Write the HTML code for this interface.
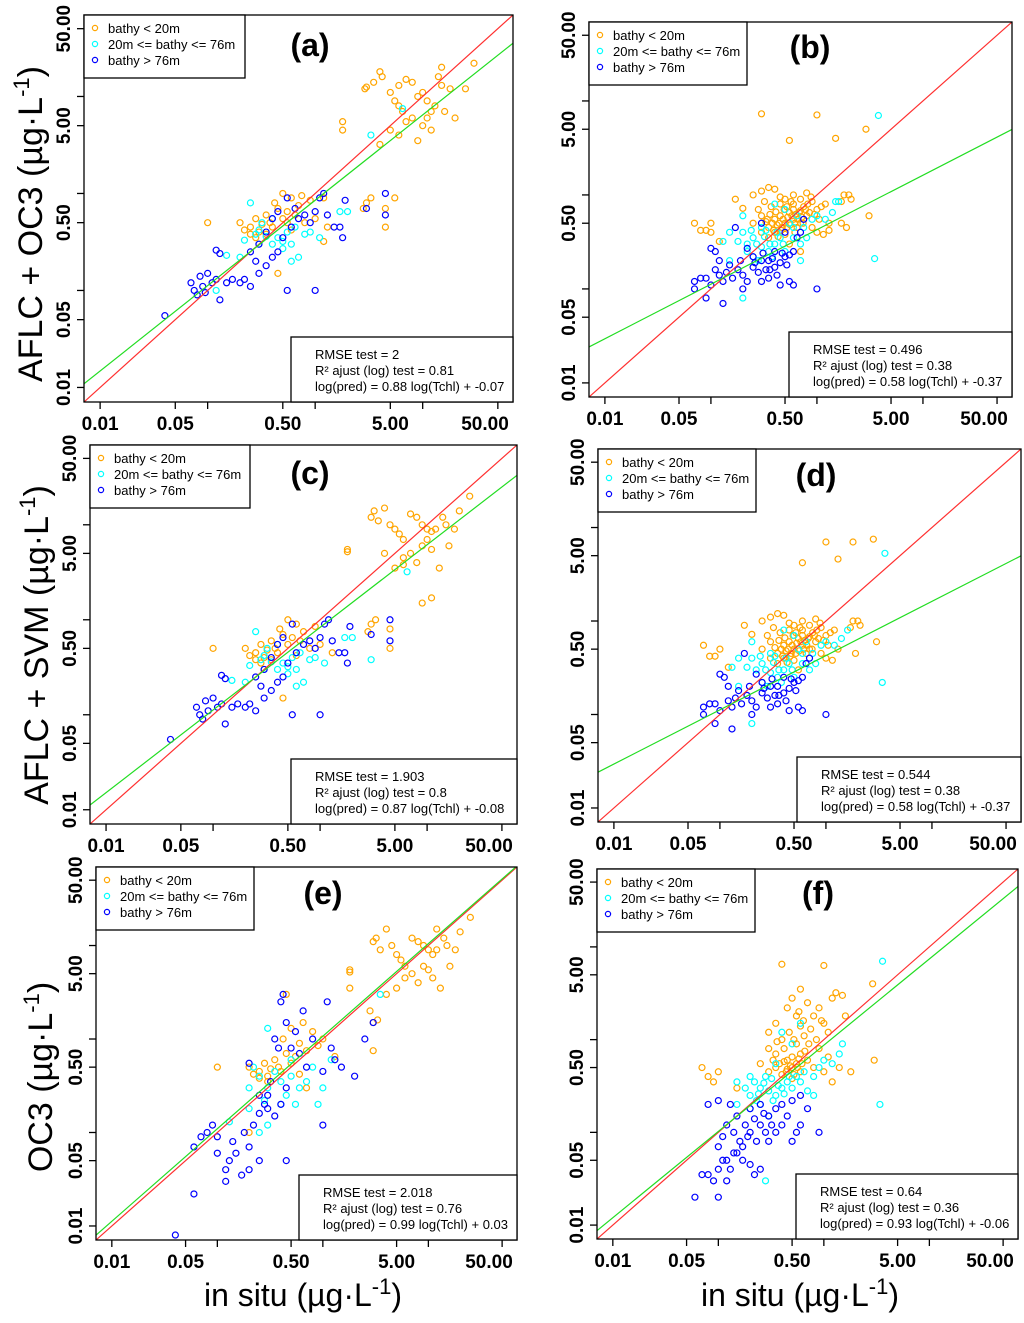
<!DOCTYPE html>
<html><head><meta charset="utf-8"><style>
html,body{margin:0;padding:0;background:#fff;}
svg{display:block;font-family:"Liberation Sans",sans-serif;}
</style></head><body>
<svg id="fig" width="1024" height="1323" viewBox="0 0 1024 1323" xmlns="http://www.w3.org/2000/svg">
<text x="42" y="224" transform="rotate(-90 42 224)" font-size="34" text-anchor="middle">AFLC + OC3 (µg·L<tspan dy="-13" font-size="22">-1</tspan><tspan dy="13">)</tspan></text>
<text x="48" y="645" transform="rotate(-90 48 645)" font-size="34" text-anchor="middle">AFLC + SVM (µg·L<tspan dy="-13" font-size="22">-1</tspan><tspan dy="13">)</tspan></text>
<text x="52" y="1077" transform="rotate(-90 52 1077)" font-size="34" text-anchor="middle">OC3 (µg·L<tspan dy="-13" font-size="22">-1</tspan><tspan dy="13">)</tspan></text>
<text x="303" y="1306" font-size="32" text-anchor="middle">in situ (µg·L<tspan dy="-12" font-size="22">-1</tspan><tspan dy="12">)</tspan></text>
<text x="800" y="1306" font-size="32" text-anchor="middle">in situ (µg·L<tspan dy="-12" font-size="22">-1</tspan><tspan dy="12">)</tspan></text>
</svg>
<script>
// ---- data (µg/L), [in situ, predicted] ----
const aOrange=[[2.9,12],[3,12.5],[3.5,14],[4,18],[4.2,16],[5,11],[5.5,9],[6,8],[6.5,7],[7,15],[8,14],[9,10],[10,11],[11,9],[12,7],[13,8],[14,16],[15,13],[18,12],[8,6],[7,5.5],[6,4],[5,4.5],[9,3.5],[4,3.2],[10,5],[11,6],[12,4.5],[16,7],[20,6],[25,12],[30,22],[15,20],[6,13],[1.8,5.5],[1.8,4.5],[3,0.8],[3.3,0.9],[2.8,0.7],[4.5,0.7],[5.5,0.9],[4.5,0.45],[0.1,0.5],[0.2,0.5],[0.22,0.42],[0.25,0.45],[0.28,0.55],[0.3,0.4],[0.32,0.48],[0.35,0.6],[0.38,0.5],[0.4,0.45],[0.42,0.8],[0.45,0.7],[0.5,0.55],[0.5,1.0],[0.55,0.65],[0.6,0.9],[0.65,0.6],[0.7,0.75],[0.8,0.5],[0.9,0.85],[1.0,0.55],[1.2,0.9],[1.3,0.45],[0.45,0.15],[1.2,0.32],[0.28,0.35],[0.35,0.38],[0.6,0.42],[0.75,0.95],[0.25,0.38],[0.55,0.5]];
const aCyan=[[0.22,0.33],[0.25,0.8],[0.28,0.38],[0.3,0.3],[0.32,0.5],[0.35,0.36],[0.4,0.3],[0.45,0.35],[0.5,0.32],[0.55,0.4],[0.6,0.3],[0.7,0.22],[0.8,0.38],[0.5,0.27],[0.15,0.23],[0.2,0.22],[0.12,0.1],[0.6,0.2],[1.1,0.35],[1.7,0.65],[2.0,0.65],[3.3,4],[6.5,7.5],[0.4,0.55],[0.3,0.42],[0.65,0.45],[0.9,0.4]];
const aBlue=[[0.04,0.055],[0.07,0.12],[0.075,0.1],[0.08,0.09],[0.085,0.14],[0.09,0.11],[0.095,0.095],[0.1,0.15],[0.11,0.12],[0.12,0.13],[0.13,0.08],[0.12,0.26],[0.13,0.24],[0.15,0.12],[0.17,0.13],[0.2,0.12],[0.22,0.13],[0.25,0.11],[0.25,0.25],[0.28,0.2],[0.3,0.15],[0.3,0.3],[0.35,0.18],[0.35,0.4],[0.4,0.22],[0.4,0.55],[0.45,0.65],[0.5,0.35],[0.55,0.9],[0.6,0.45],[0.7,0.55],[0.8,0.6],[0.9,0.5],[1.0,0.65],[1.1,0.9],[1.2,1.0],[1.3,0.6],[1.5,0.45],[1.7,0.45],[1.8,0.35],[1.9,0.85],[3,0.7],[4.5,0.6],[4.5,1.0],[1.0,0.1],[0.55,0.1],[0.45,0.25],[0.65,0.7]];

const bOrange=[[0.3,7.3],[1.0,7.1],[0.55,3.8],[1.5,4.0],[2.9,5.0],[3.1,0.6],[2.0,1.0],[2.1,0.9],[1.8,1.0],[1.7,0.85],[1.9,0.45],[1.7,0.5],[0.07,0.5],[0.08,0.42],[0.09,0.42],[0.1,0.5],[0.1,0.4],[0.12,0.32],[0.17,0.9],[0.2,0.72],[0.25,1.0],[0.3,1.1],[0.35,1.2],[0.4,1.15],[0.45,0.95],[0.5,0.9],[0.6,1.0],[0.7,0.9],[0.8,1.05],[0.9,0.85],[1.0,0.7],[1.1,0.75],[1.2,0.8],[1.3,0.5],[0.25,0.5],[0.3,0.6],[0.35,0.45],[0.4,0.55],[0.45,0.6],[0.5,0.5],[0.55,0.65],[0.6,0.55],[0.7,0.5],[0.8,0.6],[0.9,0.45],[1.0,0.4],[0.35,0.35],[0.4,0.4],[0.5,0.38],[0.6,0.7],[0.65,0.45],[0.3,0.4],[0.28,0.7],[0.75,0.75],[0.45,0.8],[0.55,0.3],[0.7,0.25],[1.15,0.38],[1.3,0.42],[0.38,0.5],[0.42,0.48],[0.48,0.55],[0.52,0.45],[0.58,0.6],[0.62,0.5],[0.68,0.65],[0.72,0.58],[0.33,0.52],[0.36,0.62],[0.39,0.42],[0.41,0.66],[0.44,0.5],[0.46,0.42],[0.49,0.7],[0.53,0.58],[0.56,0.48],[0.6,0.8],[0.63,0.62],[0.66,0.55],[0.7,0.68],[0.74,0.5],[0.78,0.7],[0.82,0.8],[0.85,0.65],[0.95,0.62],[0.32,0.85],[0.37,0.75],[0.43,0.36],[0.47,0.45],[0.52,0.75],[0.57,0.85],[0.62,0.4],[0.88,0.95],[1.05,0.55],[0.34,0.55]];
const bCyan=[[3.8,7.0],[3.5,0.21],[0.2,0.6],[0.15,0.4],[0.13,0.32],[0.18,0.32],[0.2,0.4],[0.22,0.3],[0.25,0.35],[0.3,0.28],[0.35,0.25],[0.4,0.3],[0.45,0.35],[0.5,0.25],[0.6,0.35],[0.7,0.3],[0.8,0.35],[0.9,0.55],[1.0,0.6],[1.2,0.55],[1.4,0.65],[1.6,0.85],[1.5,0.85],[0.5,0.7],[0.4,0.8],[0.25,0.22],[0.2,0.08],[0.28,0.2],[0.15,0.2],[0.7,0.2],[0.3,0.45],[0.6,0.45],[0.24,0.42],[0.27,0.3],[0.32,0.36],[0.36,0.3],[0.42,0.4],[0.38,0.22],[0.55,0.5],[0.65,0.6],[0.75,0.45],[0.22,0.25],[0.33,0.42],[0.48,0.3]];
const bBlue=[[0.07,0.12],[0.07,0.1],[0.08,0.13],[0.09,0.13],[0.1,0.11],[0.09,0.08],[0.1,0.27],[0.11,0.25],[0.12,0.2],[0.12,0.14],[0.13,0.12],[0.13,0.07],[0.14,0.15],[0.15,0.18],[0.16,0.13],[0.18,0.16],[0.2,0.1],[0.2,0.14],[0.22,0.12],[0.25,0.17],[0.25,0.22],[0.28,0.15],[0.3,0.2],[0.3,0.12],[0.33,0.16],[0.35,0.2],[0.35,0.13],[0.4,0.25],[0.4,0.17],[0.45,0.19],[0.5,0.22],[0.55,0.23],[0.6,0.25],[0.45,0.11],[0.55,0.12],[0.6,0.11],[0.65,0.35],[0.7,0.4],[0.75,0.55],[1.0,0.1],[0.17,0.45],[0.22,0.27],[0.3,0.5],[0.5,0.4],[0.26,0.19],[0.31,0.24],[0.36,0.16],[0.38,0.21],[0.42,0.14],[0.47,0.24],[0.52,0.18],[0.19,0.2],[0.11,0.16]];

const cOrange=[[3,12],[3.2,14],[3.5,11],[4,15],[4.5,10],[5,9],[5.5,8],[6,7],[7,13],[8,12],[9,10],[10,9],[11,8.5],[12,9],[14,12],[15,10],[18,9],[20,14],[7,5],[6,4.5],[5,3.5],[8,4],[9,6],[10,7],[11,5.5],[13,3.5],[16,6],[25,20],[6,3.8],[4,5],[1.8,5.5],[1.8,5.2],[3,0.9],[3.3,1.0],[2.8,0.75],[4.5,0.8],[9,1.5],[11,1.7],[4.5,0.5],[0.1,0.5],[0.2,0.5],[0.22,0.42],[0.25,0.45],[0.28,0.55],[0.3,0.4],[0.32,0.48],[0.35,0.6],[0.38,0.5],[0.4,0.45],[0.42,0.8],[0.45,0.7],[0.5,0.55],[0.5,1.0],[0.55,0.65],[0.6,0.9],[0.65,0.6],[0.7,0.75],[0.8,0.5],[0.9,0.85],[1.0,0.55],[1.3,0.45],[0.45,0.15],[0.28,0.35],[0.35,0.38],[0.6,0.42],[0.25,0.38]];
const cCyan=[[0.22,0.33],[0.25,0.75],[0.28,0.38],[0.3,0.3],[0.32,0.5],[0.35,0.36],[0.4,0.3],[0.45,0.35],[0.5,0.32],[0.55,0.4],[0.6,0.3],[0.7,0.22],[0.8,0.38],[0.5,0.27],[0.15,0.23],[0.2,0.22],[0.6,0.2],[1.1,0.35],[1.7,0.65],[2.0,0.65],[3.0,0.38],[6.5,3.2],[0.4,0.55],[0.3,0.42],[0.65,0.45],[0.9,0.4]];
const cBlue=[[0.04,0.055],[0.07,0.12],[0.075,0.1],[0.08,0.09],[0.085,0.14],[0.09,0.11],[0.1,0.15],[0.11,0.12],[0.12,0.13],[0.13,0.08],[0.12,0.26],[0.13,0.24],[0.15,0.12],[0.17,0.13],[0.2,0.12],[0.22,0.13],[0.25,0.11],[0.25,0.25],[0.28,0.2],[0.3,0.15],[0.3,0.3],[0.35,0.18],[0.35,0.4],[0.4,0.22],[0.4,0.55],[0.45,0.65],[0.5,0.35],[0.55,0.9],[0.6,0.45],[0.7,0.55],[0.8,0.6],[0.9,0.5],[1.0,0.65],[1.1,0.9],[1.2,1.0],[1.3,0.6],[1.5,0.45],[1.7,0.45],[1.8,0.35],[1.9,0.85],[3,0.7],[4.5,0.6],[4.5,1.0],[1.0,0.1],[0.55,0.1],[0.45,0.25]];

const dOrange=[[0.6,4.2],[1.0,7.0],[1.3,4.6],[1.8,7.0],[2.8,7.5],[3.0,0.6],[2.0,1.0],[2.1,0.9],[1.8,1.0],[1.7,0.85],[1.9,0.45],[0.07,0.55],[0.08,0.42],[0.09,0.42],[0.1,0.5],[0.12,0.32],[0.17,0.9],[0.2,0.72],[0.25,1.0],[0.3,1.1],[0.35,1.2],[0.4,1.15],[0.45,0.95],[0.5,0.9],[0.6,1.0],[0.7,0.9],[0.8,1.05],[0.9,0.85],[1.0,0.7],[1.1,0.75],[1.2,0.8],[1.3,0.5],[0.25,0.5],[0.3,0.6],[0.35,0.45],[0.4,0.55],[0.45,0.6],[0.5,0.5],[0.55,0.65],[0.6,0.55],[0.7,0.5],[0.8,0.6],[0.9,0.45],[1.0,0.4],[0.35,0.35],[0.4,0.4],[0.5,0.38],[0.6,0.7],[0.65,0.45],[0.3,0.4],[0.28,0.7],[0.75,0.75],[0.45,0.8],[0.55,0.3],[1.15,0.38],[0.38,0.5],[0.42,0.48],[0.48,0.55],[0.52,0.45],[0.58,0.6],[0.62,0.5],[0.68,0.65],[0.33,0.52],[0.36,0.62],[0.39,0.42],[0.41,0.66],[0.44,0.5],[0.46,0.42],[0.49,0.7],[0.53,0.58],[0.56,0.48],[0.6,0.8],[0.63,0.62],[0.66,0.55],[0.7,0.68],[0.74,0.5],[0.78,0.7],[0.82,0.8],[0.85,0.65],[0.95,0.62],[0.32,0.85],[0.37,0.75],[0.43,0.36],[0.47,0.45],[0.52,0.75],[0.57,0.85],[0.88,0.95],[1.05,0.55]];
const dCyan=[[3.6,5.3],[3.4,0.22],[0.2,0.6],[0.15,0.4],[0.13,0.32],[0.18,0.32],[0.2,0.4],[0.22,0.3],[0.25,0.35],[0.3,0.28],[0.35,0.25],[0.4,0.3],[0.45,0.35],[0.5,0.25],[0.6,0.35],[0.7,0.3],[0.8,0.35],[0.9,0.55],[1.0,0.6],[1.2,0.55],[1.4,0.65],[1.6,0.8],[0.5,0.7],[0.4,0.8],[0.25,0.22],[0.2,0.08],[0.28,0.2],[0.15,0.2],[0.3,0.45],[0.6,0.45],[0.24,0.42],[0.27,0.3],[0.32,0.36],[0.36,0.3],[0.42,0.4],[0.38,0.22],[0.55,0.5],[0.65,0.6],[0.75,0.45],[0.33,0.42],[0.48,0.3]];
const dBlue=[[0.07,0.12],[0.07,0.1],[0.08,0.13],[0.09,0.13],[0.1,0.11],[0.09,0.08],[0.1,0.27],[0.11,0.25],[0.12,0.2],[0.12,0.14],[0.13,0.12],[0.13,0.07],[0.14,0.15],[0.15,0.18],[0.16,0.13],[0.18,0.16],[0.2,0.1],[0.2,0.14],[0.22,0.12],[0.25,0.17],[0.25,0.22],[0.28,0.15],[0.3,0.2],[0.3,0.12],[0.33,0.16],[0.35,0.2],[0.35,0.13],[0.4,0.25],[0.4,0.17],[0.45,0.19],[0.5,0.22],[0.55,0.23],[0.6,0.25],[0.45,0.11],[0.55,0.12],[0.6,0.11],[0.65,0.35],[0.7,0.4],[1.0,0.1],[0.17,0.45],[0.22,0.27],[0.26,0.19],[0.31,0.24],[0.36,0.16],[0.42,0.14],[0.47,0.24],[0.52,0.18],[0.19,0.2]];

const eOrange=[[3,11],[3.2,12],[3.5,9],[4,15],[4.5,10],[5,8],[5.5,7],[6,6],[7,12],[8,11],[9,10],[10,9],[11,8],[12,9],[14,12],[15,10],[18,9],[20,14],[7,5],[6,4.5],[5,3.5],[8,4],[9,6],[10,5.5],[11,4.5],[13,3.5],[16,6],[25,20],[12,15],[4,3],[1.8,5.5],[1.8,5.2],[1.8,3.5],[3,1.5],[3.3,1.6],[2.8,2.0],[3.0,0.75],[0.1,0.5],[0.2,0.5],[0.22,0.42],[0.25,0.45],[0.28,0.55],[0.3,0.4],[0.32,0.48],[0.35,0.6],[0.38,0.5],[0.4,0.45],[0.42,1.0],[0.45,0.7],[0.5,0.55],[0.5,1.3],[0.55,0.65],[0.6,0.9],[0.65,1.5],[0.7,0.75],[0.8,1.2],[0.9,0.85],[1.0,1.0],[1.3,0.65],[0.45,3.0],[0.3,0.35],[0.6,0.42],[0.25,0.38],[0.7,0.3],[0.2,0.1]];
const eCyan=[[0.13,0.13],[0.2,0.3],[0.22,0.5],[0.25,0.4],[0.3,0.3],[0.35,0.45],[0.4,0.35],[0.45,0.25],[0.5,0.4],[0.55,0.2],[0.6,0.3],[0.7,0.35],[0.8,0.5],[1.0,0.3],[1.2,0.6],[0.3,0.12],[0.25,0.1],[0.3,1.3],[0.5,0.6],[3.5,3.0],[0.4,0.2],[0.28,0.22],[0.9,0.2],[0.2,0.18]];
const eBlue=[[0.04,0.008],[0.06,0.022],[0.06,0.07],[0.07,0.09],[0.08,0.1],[0.09,0.12],[0.1,0.09],[0.1,0.06],[0.12,0.04],[0.12,0.03],[0.13,0.05],[0.14,0.08],[0.15,0.06],[0.17,0.035],[0.18,0.1],[0.2,0.07],[0.2,0.04],[0.22,0.12],[0.25,0.16],[0.25,0.05],[0.28,0.2],[0.3,0.25],[0.32,0.35],[0.35,1.0],[0.38,0.8],[0.4,2.5],[0.42,3.0],[0.45,0.3],[0.45,1.5],[0.5,0.8],[0.55,1.2],[0.6,0.7],[0.65,2.0],[0.7,0.5],[0.8,1.0],[1.0,0.45],[1.1,2.5],[1.2,0.8],[1.3,0.6],[1.5,0.5],[2.0,0.4],[2.5,1.0],[3.0,1.5],[1.0,0.12],[0.45,0.05],[0.2,0.55],[0.35,0.15],[0.25,0.25],[0.3,0.18],[0.4,0.2]];

const fOrange=[[0.4,6.5],[1.0,6.3],[0.6,3.5],[0.35,1.5],[0.45,2.2],[0.5,2.8],[0.55,1.8],[0.7,2.5],[0.8,1.8],[0.9,2.2],[1.0,1.5],[1.2,2.8],[1.3,3.2],[1.5,3.0],[1.6,1.8],[2.9,4.0],[3.0,0.6],[1.8,0.45],[0.07,0.5],[0.08,0.4],[0.09,0.35],[0.1,0.45],[0.15,0.3],[0.25,0.55],[0.3,0.8],[0.35,0.7],[0.4,1.0],[0.45,0.6],[0.5,0.5],[0.55,0.9],[0.6,0.7],[0.65,1.1],[0.7,0.6],[0.8,0.5],[0.9,0.8],[1.0,0.45],[1.1,0.65],[1.2,0.35],[1.4,0.5],[0.3,0.45],[0.35,0.5],[0.4,0.42],[0.45,0.48],[0.5,0.38],[0.55,0.55],[0.6,0.45],[0.42,0.58],[0.48,0.52],[0.58,0.62],[0.3,1.2],[0.6,1.4],[1.1,1.2],[0.38,0.55],[0.44,0.45],[0.5,0.65],[0.52,0.42],[0.56,0.5],[0.62,0.55],[0.66,0.75],[0.72,0.9],[0.75,1.3],[0.85,1.0],[0.95,1.6],[0.42,0.8],[0.47,1.2],[0.52,1.0],[0.58,2.0],[0.64,1.6],[0.36,0.95],[0.33,0.6]];
const fCyan=[[3.6,7.0],[3.4,0.2],[0.2,0.4],[0.15,0.35],[0.18,0.3],[0.2,0.25],[0.22,0.35],[0.25,0.3],[0.28,0.4],[0.3,0.28],[0.35,0.25],[0.4,0.3],[0.45,0.35],[0.5,0.3],[0.6,0.35],[0.7,0.28],[0.8,0.4],[0.9,0.5],[1.0,0.6],[1.2,0.55],[1.4,0.7],[0.5,0.9],[0.6,1.5],[0.4,1.2],[0.25,0.2],[0.2,0.18],[0.3,0.15],[0.28,0.03],[0.15,0.2],[0.35,0.55],[0.8,0.25],[1.5,0.9],[0.24,0.26],[0.27,0.34],[0.32,0.38],[0.37,0.32],[0.42,0.26],[0.47,0.4],[0.55,0.4],[0.65,0.45],[0.23,0.22],[0.33,0.22]];
const fBlue=[[0.06,0.02],[0.07,0.035],[0.08,0.035],[0.1,0.02],[0.09,0.03],[0.1,0.04],[0.12,0.03],[0.12,0.05],[0.13,0.04],[0.15,0.06],[0.17,0.05],[0.2,0.045],[0.22,0.035],[0.25,0.04],[0.1,0.07],[0.11,0.09],[0.12,0.12],[0.14,0.1],[0.15,0.15],[0.16,0.08],[0.18,0.12],[0.2,0.1],[0.2,0.18],[0.22,0.14],[0.25,0.12],[0.25,0.2],[0.28,0.1],[0.3,0.15],[0.3,0.08],[0.35,0.1],[0.35,0.18],[0.4,0.12],[0.4,0.2],[0.45,0.15],[0.5,0.08],[0.55,0.1],[0.6,0.12],[0.7,0.18],[0.9,0.1],[0.08,0.2],[0.1,0.22],[0.13,0.2],[0.5,0.22],[0.6,0.25],[0.17,0.07],[0.19,0.09],[0.23,0.08],[0.27,0.16],[0.32,0.12],[0.14,0.06],[0.11,0.05]];

const tickValues=[0.01,0.05,0.1,0.5,1,5,10,50];
const tickLabels=["0.01","0.05","","0.50","","5.00","","50.00"];

const panels=[
 {id:"a",box:[84,15,513,402],title:"(a)",tx:310,ty:56,stats:["RMSE test = 2","R² ajust (log) test = 0.81","log(pred) = 0.88 log(Tchl) + -0.07"],slope:0.88,icpt:-0.07,leg:161,stW:222,series:[aOrange,aCyan,aBlue]},
 {id:"b",box:[589,22,1012,397],title:"(b)",tx:810,ty:58,stats:["RMSE test = 0.496","R² ajust (log) test = 0.38","log(pred) = 0.58 log(Tchl) + -0.37"],slope:0.58,icpt:-0.37,leg:158,stW:223,series:[bOrange,bCyan,bBlue]},
 {id:"c",box:[90,445,517,824],title:"(c)",tx:310,ty:484,stats:["RMSE test = 1.903","R² ajust (log) test = 0.8","log(pred) = 0.87 log(Tchl) + -0.08"],slope:0.87,icpt:-0.08,leg:160,stW:226,series:[cOrange,cCyan,cBlue]},
 {id:"d",box:[598,449,1021,822],title:"(d)",tx:816,ty:486,stats:["RMSE test = 0.544","R² ajust (log) test = 0.38","log(pred) = 0.58 log(Tchl) + -0.37"],slope:0.58,icpt:-0.37,leg:158,stW:224,series:[dOrange,dCyan,dBlue]},
 {id:"e",box:[96,867,517,1240],title:"(e)",tx:323,ty:904,stats:["RMSE test = 2.018","R² ajust (log) test = 0.76","log(pred) = 0.99 log(Tchl) + 0.03"],slope:0.99,icpt:0.03,leg:158,stW:218,series:[eOrange,eCyan,eBlue]},
 {id:"f",box:[597,869,1018,1239],title:"(f)",tx:818,ty:904,stats:["RMSE test = 0.64","R² ajust (log) test = 0.36","log(pred) = 0.93 log(Tchl) + -0.06"],slope:0.93,icpt:-0.06,leg:158,stW:222,series:[fOrange,fCyan,fBlue]}
];
const colors=["#ffa500","#00ffff","#0000ff"];
const legendLabels=["bathy < 20m","20m <= bathy <= 76m","bathy > 76m"];
const seriesNames=["shallow","mid","deep"];
const LMIN=-2.15, LMAX=1.84;
const NS="http://www.w3.org/2000/svg";
const svg=document.getElementById("fig");
function mk(tag,attrs,parent){const e=document.createElementNS(NS,tag);for(const k in attrs)e.setAttribute(k,attrs[k]);(parent||svg).appendChild(e);return e;}

panels.forEach(p=>{
 const [x0,y0,x1,y1]=p.box;
 const sx=v=>x0+(Math.log10(v)-LMIN)/(LMAX-LMIN)*(x1-x0);
 const sy=v=>y1-(Math.log10(v)-LMIN)/(LMAX-LMIN)*(y1-y0);
 const g=mk("g",{});
 
 
 const cp=mk("clipPath",{id:"clip"+p.id},g);
 mk("rect",{x:x0,y:y0,width:x1-x0,height:y1-y0},cp);
 tickValues.forEach((v,i)=>{
  const tx=mk("line",{x1:sx(v),x2:sx(v),y1:y1,y2:y1+7,stroke:"#000","stroke-width":1.3},g);
  
  
  const ty=mk("line",{x1:x0-7,x2:x0,y1:sy(v),y2:sy(v),stroke:"#000","stroke-width":1.3},g);
  
  
  if(tickLabels[i]){
   let lx=sx(v); if(v===50) lx=Math.min(lx,x1-28);
   const t=mk("text",{x:lx,y:y1+28,"font-size":19,"font-weight":"bold","text-anchor":"middle"},g);
   t.textContent=tickLabels[i];
   
   
   const yy=sy(v);
   const t2=mk("text",{x:x0-14,y:yy,"font-size":19,"font-weight":"bold","text-anchor":"middle",transform:`rotate(-90 ${x0-14} ${yy})`},g);
   t2.textContent=tickLabels[i];
   
   
  }
 });
 const pg=mk("g",{"clip-path":`url(#clip${p.id})`},g);
 p.series.forEach((s,si)=>{
  s.forEach(d=>{
   const c=mk("circle",{cx:sx(d[0]),cy:sy(d[1]),r:3,fill:"none",stroke:colors[si],"stroke-width":1.2},pg);
   
   
  });
 });
 const lo=Math.pow(10,LMIN), hi=Math.pow(10,LMAX);
 const r=mk("line",{x1:sx(lo),y1:sy(lo),x2:sx(hi),y2:sy(hi),stroke:"#ff3030","stroke-width":1.2},pg);
 
 
 const fy=v=>Math.pow(10,p.slope*Math.log10(v)+p.icpt);
 const gl=mk("line",{x1:sx(lo),y1:sy(fy(lo)),x2:sx(hi),y2:sy(fy(hi)),stroke:"#22dd22","stroke-width":1.2},pg);
 
 
 const fr=mk("rect",{x:x0,y:y0,width:x1-x0,height:y1-y0,fill:"none",stroke:"#000","stroke-width":1.3},g);
 
 
 const lg=mk("g",{},g);
 
 
 mk("rect",{x:x0,y:y0,width:p.leg,height:63,fill:"#fff",stroke:"#000","stroke-width":1.3},lg);
 legendLabels.forEach((L,i)=>{
  const e=mk("g",{},lg);
  
  
  mk("circle",{cx:x0+11,cy:y0+17+i*16-4,r:2.6,fill:"none",stroke:colors[i],"stroke-width":1.2},e);
  const t=mk("text",{x:x0+24,y:y0+17+i*16+1,"font-size":13},e);
  t.textContent=L;
 });
 const st=mk("g",{},g);
 
 
 mk("rect",{x:x1-p.stW,y:y1-65,width:p.stW,height:65,fill:"#fff",stroke:"#000","stroke-width":1.3},st);
 p.stats.forEach((s,i)=>{
  const t=mk("text",{x:x1-p.stW+24,y:y1-43+i*16,"font-size":13},st);
  t.textContent=s;
 });
 const ti=mk("text",{x:p.tx,y:p.ty,"font-size":32,"font-weight":"bold","text-anchor":"middle"},g);
 ti.textContent=p.title;
 
 
});
</script>
</body></html>
